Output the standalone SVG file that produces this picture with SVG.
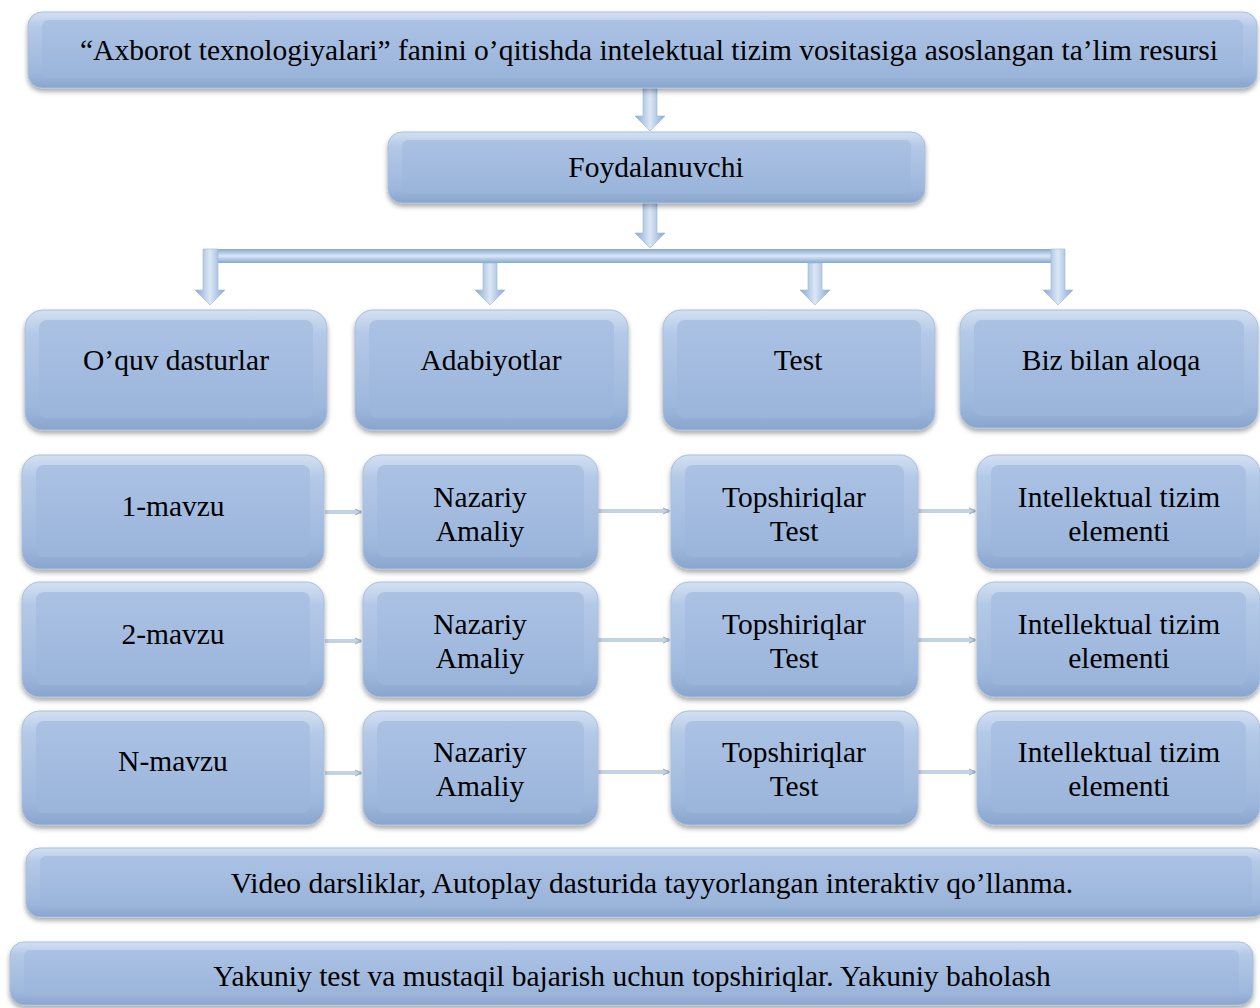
<svg xmlns="http://www.w3.org/2000/svg" width="1260" height="1008" viewBox="0 0 1260 1008">
<defs>
<linearGradient id="gO" x1="0" y1="0" x2="0" y2="1">
<stop offset="0" stop-color="#d3e0f2"/>
<stop offset="0.2" stop-color="#b4c9e7"/>
<stop offset="0.8" stop-color="#9db7dc"/>
<stop offset="1" stop-color="#8aa5cd"/>
</linearGradient>
<linearGradient id="gI" x1="0" y1="0" x2="0" y2="1">
<stop offset="0" stop-color="#abc2e4"/>
<stop offset="1" stop-color="#9ab4da"/>
</linearGradient>
<linearGradient id="gAv" x1="0" y1="0" x2="1" y2="0">
<stop offset="0" stop-color="#86a8d2"/>
<stop offset="0.5" stop-color="#dbe7f5"/>
<stop offset="1" stop-color="#86a8d2"/>
</linearGradient>
<linearGradient id="gAh" x1="0" y1="0" x2="0" y2="1">
<stop offset="0" stop-color="#86a8d2"/>
<stop offset="0.5" stop-color="#dbe7f5"/>
<stop offset="1" stop-color="#86a8d2"/>
</linearGradient>
<filter id="sh" x="-5%" y="-10%" width="110%" height="130%">
<feDropShadow dx="0" dy="3" stdDeviation="2.5" flood-color="#000" flood-opacity="0.35"/>
</filter>
<marker id="mh" viewBox="0 0 8 8" refX="7" refY="4" markerWidth="8" markerHeight="8" markerUnits="userSpaceOnUse" orient="auto">
<path d="M1,1 L7,4 L1,7" fill="none" stroke="#9fb3cb" stroke-width="1.2"/>
</marker>
</defs>
<style>
.bo{fill:url(#gO);filter:url(#sh);stroke:#a9bfdc;stroke-width:1}
.bi{fill:url(#gI)}
.t{font-family:"Liberation Serif","Times New Roman",serif;font-size:29.5px;fill:#000;text-anchor:middle}
.av{fill:url(#gAv);stroke:#9cb6d8;stroke-width:0.6}
.ah{fill:url(#gAh)}
.hl{stroke:#c5d2e2;stroke-width:4;fill:none;marker-end:url(#mh)}
</style>
<rect width="1260" height="1008" fill="#ffffff"/>

<g id="connectors">
<path class="av" d="M643,88 H657 V116 H665 L650,131 L635,116 H643 Z"/>
<path class="av" d="M643,203 H657 V233 H665 L650,248 L635,233 H643 Z"/>
<rect class="ah" x="203" y="249" width="862" height="14"/>
<path class="av" d="M203,249 H218 V290 H225 L210,305 L195,290 H203 Z"/>
<path class="av" d="M483,263 H497 V290 H505 L490,305 L475,290 H483 Z"/>
<path class="av" d="M808,263 H822 V290 H830 L815,305 L800,290 H808 Z"/>
<path class="av" d="M1051,249 H1065 V290 H1073 L1058,305 L1043,290 H1051 Z"/>
<path class="hl" d="M325,512 H361"/>
<path class="hl" d="M598,511 H669"/>
<path class="hl" d="M917,511 H975"/>
<path class="hl" d="M325,641 H361"/>
<path class="hl" d="M598,640 H669"/>
<path class="hl" d="M917,640 H975"/>
<path class="hl" d="M325,773 H361"/>
<path class="hl" d="M598,772 H669"/>
<path class="hl" d="M917,772 H975"/>
</g>

<g id="n-title">
<rect class="bo" x="28" y="12" width="1229" height="76" rx="14"/>
<rect class="bi" x="42" y="20" width="1201" height="58" rx="6"/>
<text class="t" x="649" y="60">“Axborot texnologiyalari” fanini o’qitishda intelektual tizim vositasiga asoslangan ta’lim resursi</text>
</g>
<g id="n-user">
<rect class="bo" x="388" y="132" width="537" height="71" rx="14"/>
<rect class="bi" x="402" y="140" width="509" height="53" rx="6"/>
<text class="t" x="656" y="177">Foydalanuvchi</text>
</g>

<g id="n-oquv">
<rect class="bo" x="25" y="310" width="302" height="120" rx="18"/>
<rect class="bi" x="39" y="320" width="274" height="98" rx="8"/>
<text class="t" x="176" y="370">O’quv dasturlar</text>
</g>
<g id="n-adab">
<rect class="bo" x="355" y="310" width="273" height="120" rx="18"/>
<rect class="bi" x="369" y="320" width="245" height="98" rx="8"/>
<text class="t" x="491" y="370">Adabiyotlar</text>
</g>
<g id="n-test">
<rect class="bo" x="663" y="310" width="272" height="120" rx="18"/>
<rect class="bi" x="677" y="320" width="244" height="98" rx="8"/>
<text class="t" x="798" y="370">Test</text>
</g>
<g id="n-biz">
<rect class="bo" x="960" y="310" width="298" height="118" rx="18"/>
<rect class="bi" x="974" y="320" width="270" height="96" rx="8"/>
<text class="t" x="1111" y="370">Biz bilan aloqa</text>
</g>

<g id="n-m1">
<rect class="bo" x="22" y="455" width="302" height="114" rx="18"/>
<rect class="bi" x="36" y="465" width="274" height="92" rx="8"/>
<text class="t" x="173" y="516">1-mavzu</text>
</g>
<g id="n-na1">
<rect class="bo" x="363" y="455" width="235" height="114" rx="18"/>
<rect class="bi" x="377" y="465" width="207" height="92" rx="8"/>
<text class="t" x="480" y="507">Nazariy</text>
<text class="t" x="480" y="541">Amaliy</text>
</g>
<g id="n-tp1">
<rect class="bo" x="671" y="455" width="247" height="114" rx="18"/>
<rect class="bi" x="685" y="465" width="219" height="92" rx="8"/>
<text class="t" x="794" y="507">Topshiriqlar</text>
<text class="t" x="794" y="541">Test</text>
</g>
<g id="n-it1">
<rect class="bo" x="977" y="455" width="283" height="114" rx="18"/>
<rect class="bi" x="991" y="465" width="255" height="92" rx="8"/>
<text class="t" x="1119" y="507">Intellektual tizim</text>
<text class="t" x="1119" y="541">elementi</text>
</g>

<g id="n-m2">
<rect class="bo" x="22" y="582" width="302" height="115" rx="18"/>
<rect class="bi" x="36" y="592" width="274" height="93" rx="8"/>
<text class="t" x="173" y="644">2-mavzu</text>
</g>
<g id="n-na2">
<rect class="bo" x="363" y="582" width="235" height="115" rx="18"/>
<rect class="bi" x="377" y="592" width="207" height="93" rx="8"/>
<text class="t" x="480" y="634">Nazariy</text>
<text class="t" x="480" y="668">Amaliy</text>
</g>
<g id="n-tp2">
<rect class="bo" x="671" y="582" width="247" height="115" rx="18"/>
<rect class="bi" x="685" y="592" width="219" height="93" rx="8"/>
<text class="t" x="794" y="634">Topshiriqlar</text>
<text class="t" x="794" y="668">Test</text>
</g>
<g id="n-it2">
<rect class="bo" x="977" y="582" width="283" height="115" rx="18"/>
<rect class="bi" x="991" y="592" width="255" height="93" rx="8"/>
<text class="t" x="1119" y="634">Intellektual tizim</text>
<text class="t" x="1119" y="668">elementi</text>
</g>

<g id="n-m3">
<rect class="bo" x="22" y="711" width="302" height="114" rx="18"/>
<rect class="bi" x="36" y="721" width="274" height="92" rx="8"/>
<text class="t" x="173" y="771">N-mavzu</text>
</g>
<g id="n-na3">
<rect class="bo" x="363" y="711" width="235" height="114" rx="18"/>
<rect class="bi" x="377" y="721" width="207" height="92" rx="8"/>
<text class="t" x="480" y="762">Nazariy</text>
<text class="t" x="480" y="796">Amaliy</text>
</g>
<g id="n-tp3">
<rect class="bo" x="671" y="711" width="247" height="114" rx="18"/>
<rect class="bi" x="685" y="721" width="219" height="92" rx="8"/>
<text class="t" x="794" y="762">Topshiriqlar</text>
<text class="t" x="794" y="796">Test</text>
</g>
<g id="n-it3">
<rect class="bo" x="977" y="711" width="283" height="114" rx="18"/>
<rect class="bi" x="991" y="721" width="255" height="92" rx="8"/>
<text class="t" x="1119" y="762">Intellektual tizim</text>
<text class="t" x="1119" y="796">elementi</text>
</g>

<g id="n-video">
<rect class="bo" x="26" y="848" width="1240" height="69" rx="14"/>
<rect class="bi" x="40" y="856" width="1212" height="51" rx="6"/>
<text class="t" x="652" y="893">Video darsliklar, Autoplay dasturida tayyorlangan interaktiv qo’llanma.</text>
</g>
<g id="n-final">
<rect class="bo" x="10" y="942" width="1243" height="63" rx="14"/>
<rect class="bi" x="24" y="950" width="1215" height="46" rx="6"/>
<text class="t" x="632" y="986">Yakuniy test va mustaqil bajarish uchun topshiriqlar. Yakuniy baholash</text>
</g>
</svg>
